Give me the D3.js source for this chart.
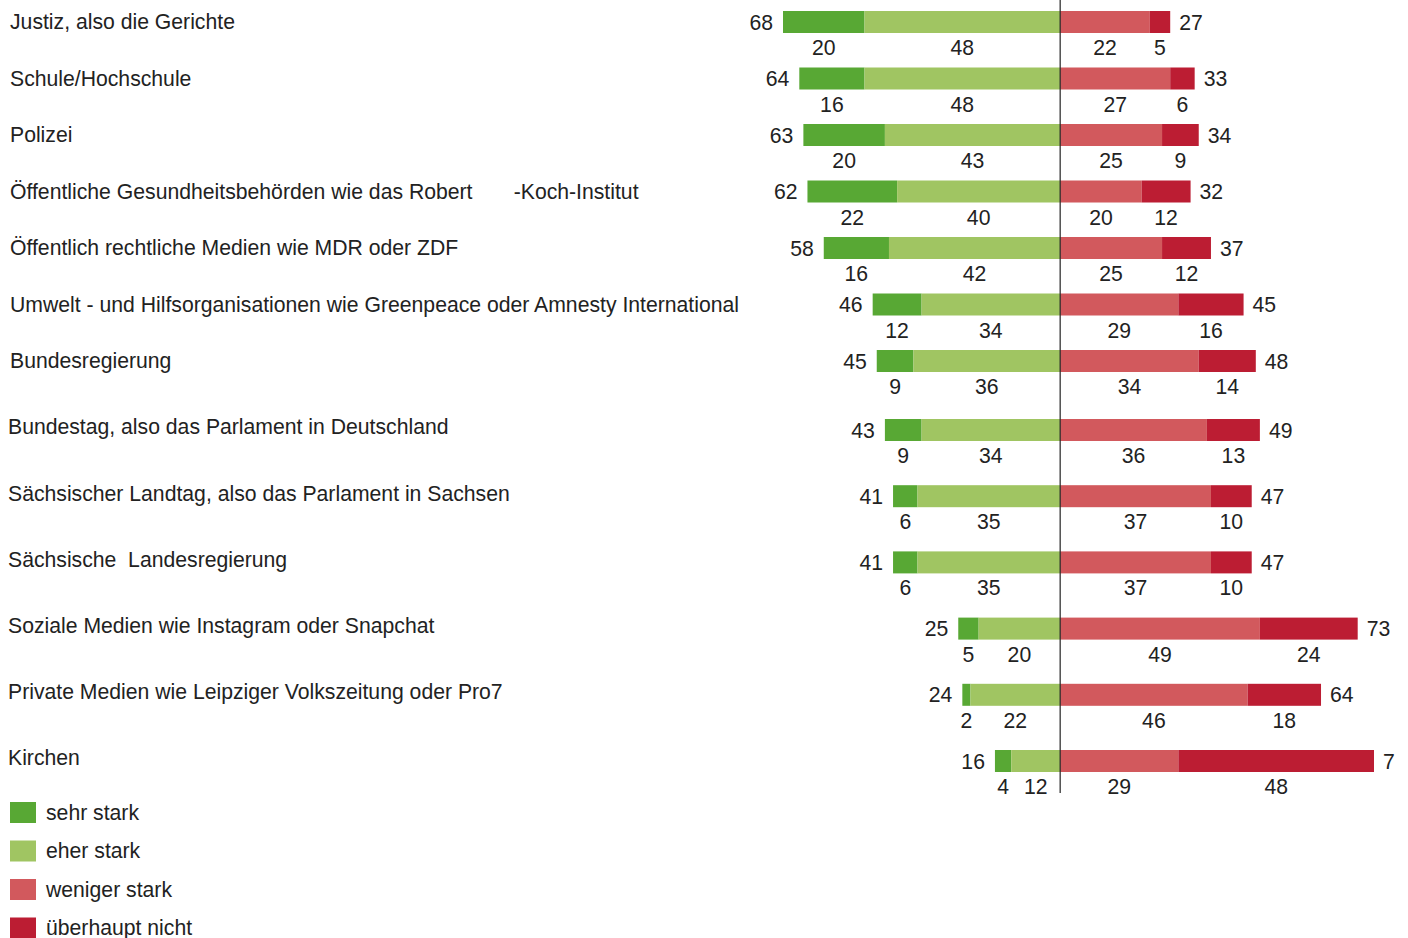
<!DOCTYPE html>
<html>
<head>
<meta charset="utf-8">
<script src="https://cdn.jsdelivr.net/npm/d3@7"></script>
<style>
  body { margin: 0; background: #fff; }
  text { font-family: "Liberation Sans", Arial, sans-serif; fill: #222; }
</style>
</head>
<body>
<div class="chart"></div>
<script>
// Data
const categories = [
    'Justiz, also die Gerichte',
    'Schule/Hochschule',
    'Polizei',
    'Öffentliche Gesundheitsbehörden wie das Robert       -Koch-Institut',
    'Öffentlich rechtliche Medien wie MDR oder ZDF',
    'Umwelt - und Hilfsorganisationen wie Greenpeace oder Amnesty International',
    'Bundesregierung',
    'Bundestag, also das Parlament in Deutschland',
    'Sächsischer Landtag, also das Parlament in Sachsen',
    'Sächsische  Landesregierung',
    'Soziale Medien wie Instagram oder Snapchat',
    'Private Medien wie Leipziger Volkszeitung oder Pro7',
    'Kirchen'
];
const sehrStark      = [20, 16, 20, 22, 16, 12,  9,  9,  6,  6,  5,  2,  4];
const eherStark      = [48, 48, 43, 40, 42, 34, 36, 34, 35, 35, 20, 22, 12];
const wenigerStark   = [22, 27, 25, 20, 25, 29, 34, 36, 37, 37, 49, 46, 29];
const ueberhauptNicht= [ 5,  6,  9, 12, 12, 16, 14, 13, 10, 10, 24, 18, 48];
const totalPos = ['68', '64', '63', '62', '58', '46', '45', '43', '41', '41', '25', '24', '16'];
const totalNeg = ['27', '33', '34', '32', '37', '45', '48', '49', '47', '47', '73', '64', '7'];
const legendLabels = ['sehr stark', 'eher stark', 'weniger stark', 'überhaupt nicht'];
const colors = ['#58a834', '#a0c562', '#d2595d', '#bc1d33'];

// Layout
const W = 1408, H = 938;
const fs = 21.2;

const svg = d3.select('.chart')
    .append('svg')
    .attr('width', W)
    .attr('height', H);

// Scales
const xScale = d3.scaleLinear()
    .domain([-68, 77])
    .range([783, 1374]);

// rows are spaced a bit wider from "Bundestag" down
const yScale = d3.scaleLinear()
    .domain([0, 6, 7, 12])
    .range([22, 361, 430, 761]);

const barH = 22;

const rows = categories.map((c, i) => {
    const s = sehrStark[i], e = eherStark[i], w = wenigerStark[i], u = ueberhauptNicht[i];
    return {
        cat: c, i: i,
        segs: [
            {k: 0, v: s, x0: -(s + e), x1: -e},
            {k: 1, v: e, x0: -e, x1: 0},
            {k: 2, v: w, x0: 0, x1: w},
            {k: 3, v: u, x0: w, x1: w + u}
        ],
        pos: totalPos[i], neg: totalNeg[i],
        left: -(s + e), right: w + u
    };
});

const row = svg.selectAll('.row')
    .data(rows)
    .enter()
    .append('g')
    .attr('class', 'row')
    .attr('transform', d => `translate(0, ${yScale(d.i)})`);

// category labels
row.append('text')
    .attr('x', d => d.i < 7 ? 10 : 8)
    .attr('y', d => d.i < 7 ? 0 : -3)
    .attr('dy', '0.35em')
    .style('font-size', fs + 'px')
    .style('white-space', 'pre')
    .text(d => d.cat);

// bars
row.selectAll('rect')
    .data(d => d.segs)
    .enter()
    .append('rect')
    .attr('x', d => xScale(d.x0))
    .attr('y', -barH / 2)
    .attr('width', d => xScale(d.x1) - xScale(d.x0))
    .attr('height', barH)
    .style('fill', d => colors[d.k]);

// segment values below bars
row.selectAll('.seg-label')
    .data(d => d.segs)
    .enter()
    .append('text')
    .attr('class', 'seg-label')
    .attr('x', d => (xScale(d.x0) + xScale(d.x1)) / 2)
    .attr('y', 33)
    .attr('text-anchor', 'middle')
    .style('font-size', fs + 'px')
    .text(d => d.v);

// totals
row.append('text')
    .attr('x', d => xScale(d.left) - 10)
    .attr('dy', '0.36em')
    .attr('text-anchor', 'end')
    .style('font-size', fs + 'px')
    .text(d => d.pos);

row.append('text')
    .attr('x', d => xScale(d.right) + 9)
    .attr('dy', '0.36em')
    .style('font-size', fs + 'px')
    .text(d => d.neg);

// center line
svg.append('line')
    .attr('x1', xScale(0)).attr('x2', xScale(0))
    .attr('y1', 0).attr('y2', 793)
    .style('stroke', '#222')
    .style('stroke-width', 1.2);

// Legend
const legend = svg.selectAll('.legend')
    .data(legendLabels)
    .enter()
    .append('g')
    .attr('class', 'legend')
    .attr('transform', (d, i) => `translate(10, ${802 + i * 38.5})`);

legend.append('rect')
    .attr('width', 26)
    .attr('height', 21)
    .style('fill', (d, i) => colors[i]);

legend.append('text')
    .attr('x', 36)
    .attr('y', 10.5)
    .attr('dy', '0.35em')
    .style('font-size', fs + 'px')
    .text(d => d);
</script>
</body>
</html>
